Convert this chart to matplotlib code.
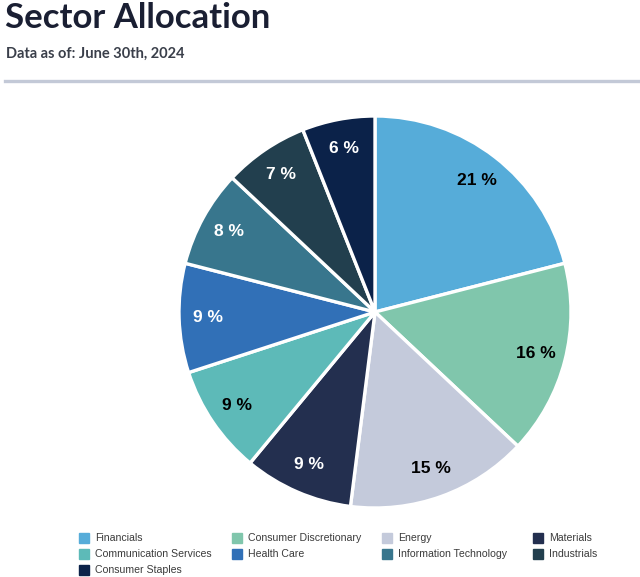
import matplotlib.pyplot as plt
from matplotlib.patches import Rectangle

sectors = ['Financials', 'Consumer Discretionary', 'Energy', 'Materials',
           'Communication Services', 'Health Care', 'Information Technology',
           'Industrials', 'Consumer Staples']
weights = [21, 16, 15, 9, 9, 9, 8, 7, 6]
colors = ['#56acd9', '#80c6ac', '#c4cadb', '#232f4f', '#5dbab8',
          '#3170b7', '#38768d', '#223f4e', '#0b2249']
label_colors = ['black', 'black', 'black', 'white', 'black',
                'white', 'white', 'white', 'white']

W, H = 640, 577
fig = plt.figure(figsize=(W / 100, H / 100), dpi=100)

# header
fig.text(5 / W, 1 - 18 / H, 'Sector Allocation', fontsize=25, fontweight='bold',
         color='#1a1f33', family='Lato', va='center', ha='left')
fig.text(6 / W, 1 - 54 / H, 'Data as of: June 30th, 2024', fontsize=10.5,
         fontweight='bold', color='#3a3f4a', family='Lato', va='center', ha='left')
fig.add_artist(plt.Line2D([5 / W, 1], [1 - 81 / H, 1 - 81 / H], color='#c3c9d7',
                          linewidth=2.4, transform=fig.transFigure))

# pie
cx, cy, r = 375, 312, 196
ax = fig.add_axes([(cx - r) / W, 1 - (cy + r) / H, 2 * r / W, 2 * r / H])
wedges, texts = ax.pie(weights, colors=colors, startangle=90, counterclock=False,
                       radius=1, labels=[f'{w} %' for w in weights], labeldistance=0.85,
                       wedgeprops=dict(edgecolor='white', linewidth=2.4))
for t, c in zip(texts, label_colors):
    t.set_color(c)
    t.set_fontweight('bold')
    t.set_fontsize(12.5)
    t.set_family('Liberation Sans')
    t.set_ha('center')
    t.set_va('center')
ax.set_xlim(-1, 1)
ax.set_ylim(-1, 1)
ax.set_aspect('equal')
ax.axis('off')

# legend, filled row by row
col_x = [84, 237, 387, 538]
row_y = [538, 554, 570]
for i, (name, c) in enumerate(zip(sectors, colors)):
    x = col_x[i % 4]
    y = row_y[i // 4]
    fig.add_artist(Rectangle(((x - 5) / W, 1 - (y + 5) / H), 10 / W, 10 / H,
                             color=c, transform=fig.transFigure))
    fig.text((x + 11) / W, 1 - y / H, name, fontsize=7.6, color='#3b3b3b',
             family='Liberation Sans', va='center', ha='left')

fig.savefig('out.png', dpi=100, facecolor='white')
